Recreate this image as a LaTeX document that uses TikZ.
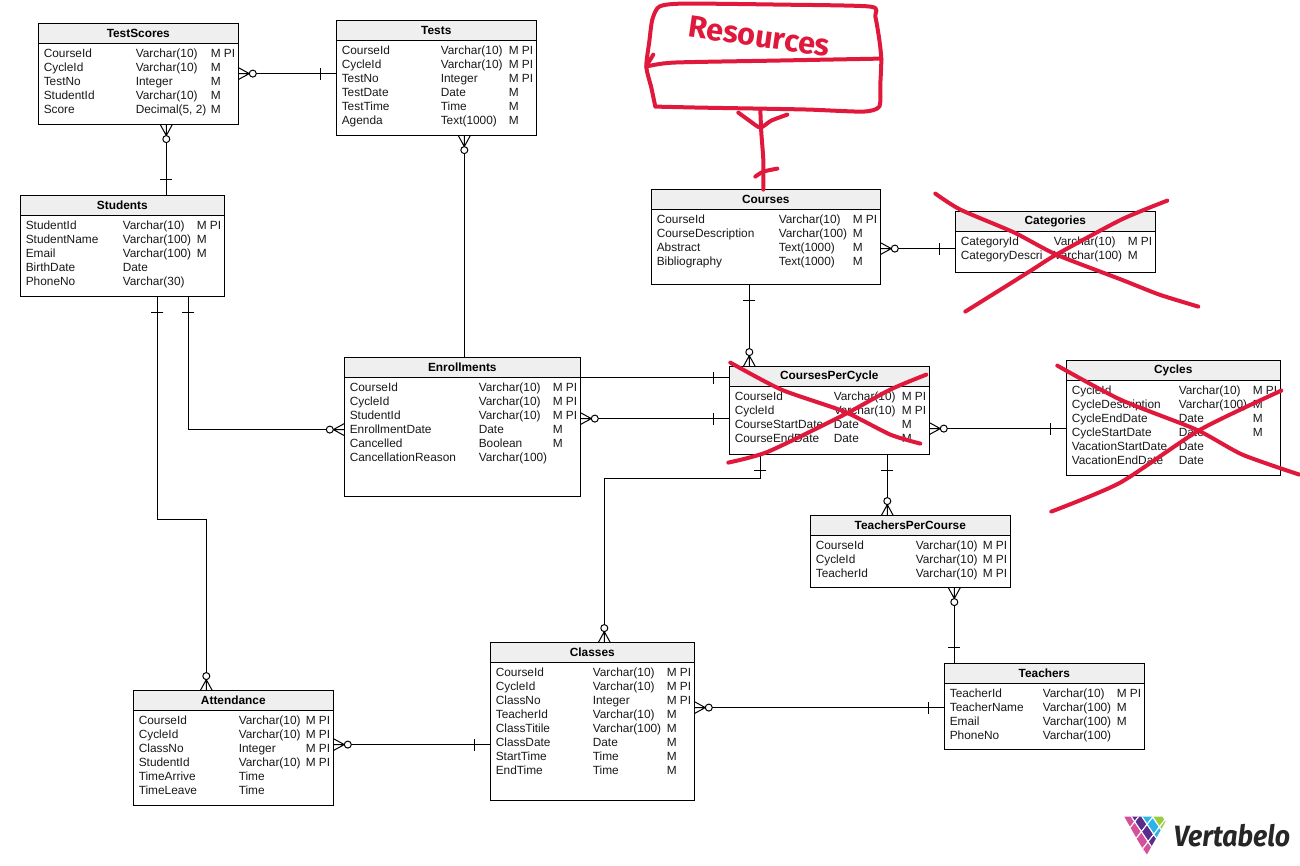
\documentclass[tikz,border=0pt]{standalone}
\usepackage{fontspec}
\setmainfont{Liberation Sans}
\newfontfamily\logofont{Fira Sans}
\definecolor{headgray}{HTML}{EFEFEF}
\definecolor{penred}{HTML}{E0183C}
\definecolor{logopink}{HTML}{D5509B}
\definecolor{logopurple}{HTML}{5A2D8C}
\definecolor{logoblue}{HTML}{2BB4E8}
\definecolor{logogreen}{HTML}{9CCB3B}

\tikzset{
    entitybox/.style = {draw, fill=white, inner sep=0pt, outer sep=0pt, anchor=north west},
    entityhead/.style = {draw, fill=headgray, inner sep=0pt, outer sep=0pt, anchor=north west, font=\fontsize{8.9}{10}\selectfont\bfseries},
    cell/.style = {inner sep=0pt, anchor=base west, text=black!90, font=\fontsize{8.9}{10}\selectfont},
    pen/.style = {draw=penred, line width=3pt, line cap=round, line join=round},
    crowzero/.pic = {
        \draw (0,-6) -- (11,0) (0,0) -- (11,0) (0,6) -- (11,0);
        \draw[fill=white] (14.5,0) circle [radius=3.5];
    },
    onebar/.pic = {\draw (16,-6) -- (16,6);}
}

% name, x1, y1, x2, y2, title, type column, flag column, rows
\newcommand{\entity}[9]{
    \node[entitybox, minimum width={(#4-#2)*0.75pt}, minimum height={(#5-#3)*0.75pt}] (#1) at (#2,#3) {};
    \node[entityhead, minimum width={(#4-#2)*0.75pt}, minimum height={20*0.75pt}] (#1-head) at (#2,#3) {\raisebox{-0.5pt}{#6}};
    \foreach \fname/\ftype/\fflag [count=\i] in {#9} {
        \node[cell] (#1-name-\i) at ({#2+5},{#3+34+14*(\i-1)}) {\fname};
        \node[cell] (#1-type-\i) at ({#2+#7},{#3+34+14*(\i-1)}) {\ftype};
        \node[cell] (#1-flag-\i) at ({#2+#8},{#3+34+14*(\i-1)}) {\fflag};
    }
}

\begin{document}
\begin{tikzpicture}[x=0.75pt, y=-0.75pt, line width=0.75pt]
    \useasboundingbox (0.7,0.4) rectangle (1300.7,866.4);

    \entity{testscores}{39}{24}{239}{125}{TestScores}{97}{172}{
        CourseId/Varchar(10)/M PI, CycleId/Varchar(10)/M, TestNo/Integer/M,
        StudentId/Varchar(10)/M, Score/{Decimal(5, 2)}/M}
    \entity{tests}{337}{21}{537}{136}{Tests}{104}{172}{
        CourseId/Varchar(10)/M PI, CycleId/Varchar(10)/M PI, TestNo/Integer/M PI,
        TestDate/Date/M, TestTime/Time/M, Agenda/Text(1000)/M}
    \entity{students}{21}{196}{225}{297}{Students}{102}{176}{
        StudentId/Varchar(10)/M PI, StudentName/Varchar(100)/M, Email/Varchar(100)/M,
        BirthDate/Date/, PhoneNo/Varchar(30)/}
    \entity{enrollments}{345}{358}{581}{497}{Enrollments}{134}{208}{
        CourseId/Varchar(10)/M PI, CycleId/Varchar(10)/M PI, StudentId/Varchar(10)/M PI,
        EnrollmentDate/Date/M, Cancelled/Boolean/M, CancellationReason/Varchar(100)/}
    \entity{courses}{652}{190}{881}{285}{Courses}{127}{201}{
        CourseId/Varchar(10)/M PI, CourseDescription/Varchar(100)/M,
        Abstract/Text(1000)/M, Bibliography/Text(1000)/M}
    \entity{categories}{956}{212}{1156}{273}{Categories}{98}{172}{
        CategoryId/Varchar(10)/M PI, CategoryDescri/Varchar(100)/M}
    \entity{coursespercycle}{730}{367}{930}{455}{CoursesPerCycle}{104}{172}{
        CourseId/Varchar(10)/M PI, CycleId/Varchar(10)/M PI,
        CourseStartDate/Date/M, CourseEndDate/Date/M}
    \entity{cycles}{1067}{361}{1281}{476}{Cycles}{112}{186}{
        CycleId/Varchar(10)/M PI, CycleDescription/Varchar(100)/M, CycleEndDate/Date/M,
        CycleStartDate/Date/M, VacationStartDate/Date/, VacationEndDate/Date/}
    \entity{teacherspercourse}{811}{516}{1011}{588}{TeachersPerCourse}{105}{172}{
        CourseId/Varchar(10)/M PI, CycleId/Varchar(10)/M PI, TeacherId/Varchar(10)/M PI}
    \entity{classes}{491}{643}{695}{801}{Classes}{102}{176}{
        CourseId/Varchar(10)/M PI, CycleId/Varchar(10)/M PI, ClassNo/Integer/M PI,
        TeacherId/Varchar(10)/M, ClassTitile/Varchar(100)/M, ClassDate/Date/M,
        StartTime/Time/M, EndTime/Time/M}
    \entity{teachers}{945}{664}{1145}{750}{Teachers}{98}{172}{
        TeacherId/Varchar(10)/M PI, TeacherName/Varchar(100)/M,
        Email/Varchar(100)/M, PhoneNo/Varchar(100)/}
    \entity{attendance}{134}{691}{334}{806}{Attendance}{105}{172}{
        CourseId/Varchar(10)/M PI, CycleId/Varchar(10)/M PI, ClassNo/Integer/M PI,
        StudentId/Varchar(10)/M PI, TimeArrive/Time/, TimeLeave/Time/}

    \draw (testscores.east |- 0,74) -- (tests.west |- 0,74);
    \pic at (testscores.east |- 0,74) {crowzero};
    \pic[rotate=180] at (tests.west |- 0,74) {onebar};

    \draw (testscores.south -| 167,0) -- (students.north -| 167,0);
    \pic[rotate=-90] at (testscores.south -| 167,0) {crowzero};
    \pic[rotate=90] at (students.north -| 167,0) {onebar};

    \draw (tests.south -| 465,0) -- (enrollments.north -| 465,0);
    \pic[rotate=-90] at (tests.south -| 465,0) {crowzero};

    \draw (students.south -| 158,0) |- (207,520) -- (attendance.north -| 207,0);
    \pic[rotate=-90] at (students.south -| 158,0) {onebar};
    \pic[rotate=90] at (attendance.north -| 207,0) {crowzero};

    \draw (students.south -| 189,0) |- (enrollments.west |- 0,430);
    \pic[rotate=-90] at (students.south -| 189,0) {onebar};
    \pic[rotate=180] at (enrollments.west |- 0,430) {crowzero};

    \draw (enrollments.east |- 0,378) -- (coursespercycle.west |- 0,378);
    \pic[rotate=180] at (coursespercycle.west |- 0,378) {onebar};

    \draw (enrollments.east |- 0,419) -- (coursespercycle.west |- 0,419);
    \pic at (enrollments.east |- 0,419) {crowzero};
    \pic[rotate=180] at (coursespercycle.west |- 0,419) {onebar};

    \draw (courses.south -| 750,0) -- (coursespercycle.north -| 750,0);
    \pic[rotate=-90] at (courses.south -| 750,0) {onebar};
    \pic[rotate=90] at (coursespercycle.north -| 750,0) {crowzero};

    \draw (courses.east |- 0,249) -- (categories.west |- 0,249);
    \pic at (courses.east |- 0,249) {crowzero};
    \pic[rotate=180] at (categories.west |- 0,249) {onebar};

    \draw (coursespercycle.east |- 0,429) -- (cycles.west |- 0,429);
    \pic at (coursespercycle.east |- 0,429) {crowzero};
    \pic[rotate=180] at (cycles.west |- 0,429) {onebar};

    \draw (coursespercycle.south -| 888,0) -- (teacherspercourse.north -| 888,0);
    \pic[rotate=-90] at (coursespercycle.south -| 888,0) {onebar};
    \pic[rotate=90] at (teacherspercourse.north -| 888,0) {crowzero};

    \draw (coursespercycle.south -| 761,0) |- (605,479) -- (classes.north -| 605,0);
    \pic[rotate=-90] at (coursespercycle.south -| 761,0) {onebar};
    \pic[rotate=90] at (classes.north -| 605,0) {crowzero};

    \draw (teacherspercourse.south -| 955,0) -- (teachers.north -| 955,0);
    \pic[rotate=-90] at (teacherspercourse.south -| 955,0) {crowzero};
    \pic[rotate=90] at (teachers.north -| 955,0) {onebar};

    \draw (classes.east |- 0,708) -- (teachers.west |- 0,708);
    \pic at (classes.east |- 0,708) {crowzero};
    \pic[rotate=180] at (teachers.west |- 0,708) {onebar};

    \draw (attendance.east |- 0,745) -- (classes.west |- 0,745);
    \pic at (attendance.east |- 0,745) {crowzero};
    \pic[rotate=180] at (classes.west |- 0,745) {onebar};

    % hand drawn marks
    \draw[pen] plot[smooth, tension=0.4] coordinates {(656,107) (652,88) (647,67) (650,42) (653,20) (660,7) (684,4) (780,5) (871,7) (876,17) (880,40) (882,60) (881,85) (880,107) (864,112) (810,110) (759,109) (700,108) (656,107)};
    \draw[pen] plot[smooth, tension=0.4] coordinates {(647,67) (674,63) (776,61) (882,59)};
    \draw[pen] (654,55) -- (648,65);
    \draw[pen] plot[smooth, tension=0.4] coordinates {(761,110) (762,133) (764,160) (764,190)};
    \draw[pen] plot[smooth, tension=0.4] coordinates {(739,113) (750,121) (761,128) (772,121) (788,115)};
    \draw[pen] plot[smooth, tension=0.4] coordinates {(756,177) (764,172) (778,169)};
    \node[inner sep=0pt, text=penred, rotate=-8, font=\logofont\fontsize{23}{25}\selectfont\bfseries] (handtitle) at (760,37) {Resources};

    \draw[pen] plot[smooth, tension=0.4] coordinates {(936,194) (961,210) (1015,233) (1057,255) (1122,280) (1160,295) (1199,307)};
    \draw[pen] plot[smooth, tension=0.4] coordinates {(966,312) (1030,272) (1057,255) (1122,220) (1168,201)};
    \draw[pen] plot[smooth, tension=0.4] coordinates {(731,363) (782,390) (845,412) (891,435) (921,444)};
    \draw[pen] plot[smooth, tension=0.4] coordinates {(729,463) (769,452) (845,415) (891,390) (927,375)};
    \draw[pen] plot[smooth, tension=0.4] coordinates {(1058,366) (1121,400) (1197,430) (1243,455) (1300,475)};
    \draw[pen] plot[smooth, tension=0.4] coordinates {(1052,512) (1121,483) (1201,430) (1282,391)};

    % logo
    \begin{scope}
        \clip (1125,817) -- (1169,817) -- (1147,856) -- cycle;
        \foreach \k/\m/\col in {0/0/logopink, 0/1/logopurple,
                                1/0/logopink, 1/1/logopurple, 1/2/logoblue,
                                2/0/logopink, 2/1/logopurple, 2/2/logoblue, 2/3/logogreen,
                                3/0/logopink, 3/1/logopurple, 3/2/logoblue, 3/3/logogreen} {
            \fill[\col, draw=white, line width=0.8pt]
                ({1129.3+(\k-0.5)*6.67+(\m-0.5)*5.67},{820.7+(\k-0.5)*10-(\m-0.5)*7.33})
                -- ({1129.3+(\k+0.5)*6.67+(\m-0.5)*5.67},{820.7+(\k+0.5)*10-(\m-0.5)*7.33})
                -- ({1129.3+(\k+0.5)*6.67+(\m+0.5)*5.67},{820.7+(\k+0.5)*10-(\m+0.5)*7.33})
                -- ({1129.3+(\k-0.5)*6.67+(\m+0.5)*5.67},{820.7+(\k-0.5)*10-(\m+0.5)*7.33}) -- cycle;
        }
    \end{scope}
    \node[inner sep=0pt, anchor=base west, text=black!85, xscale=0.91, font=\logofont\fontsize{22}{24}\selectfont\bfseries\itshape] (logotext) at (1174,847) {Vertabelo};
\end{tikzpicture}
\end{document}
